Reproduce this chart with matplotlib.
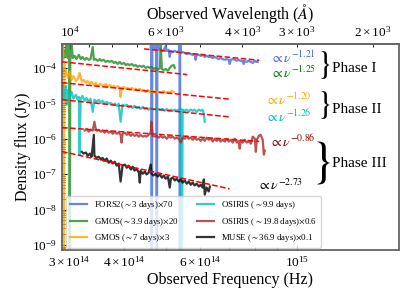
import matplotlib
matplotlib.use('Agg')
import matplotlib.pyplot as plt
import numpy as np

plt.rcParams['font.family'] = 'serif'
plt.rcParams['font.serif'] = ['Liberation Serif', 'STIXGeneral', 'DejaVu Serif']
plt.rcParams['mathtext.fontset'] = 'stix'

c_AA = 2.998e18  # speed of light in Angstrom/s

# spectra as (frequency [1e14 Hz], log10 flux [Jy], already scaled); -12 marks empty pixels
fors2 = np.array([
    (4.61, -3.41), (4.62, -3.2), (4.635, -12), (4.65, -3.2), (4.66, -3.44), (4.71, -3.47),
    (4.745, -3.2), (4.76, -12), (4.775, -3.2), (4.78, -3.49), (4.84, -3.46), (4.89, -3.52),
    (4.94, -3.49), (4.99, -3.38), (5.02, -3.52), (5.07, -3.49), (5.10, -3.69), (5.13, -3.52),
    (5.18, -3.55), (5.24, -3.52), (5.29, -3.55), (5.35, -3.55), (5.37, -3.2), (5.38, -12),
    (5.39, -3.2), (5.41, -3.58), (5.46, -3.55), (5.52, -3.58), (5.58, -3.61), (5.64, -3.58),
    (5.70, -3.61), (5.76, -3.63), (5.82, -3.61), (5.85, -3.77), (5.88, -3.63), (5.95, -3.63),
    (6.01, -3.66), (6.07, -3.63), (6.14, -3.69), (6.20, -3.66), (6.27, -3.69), (6.34, -3.69),
    (6.41, -3.72), (6.47, -3.69), (6.54, -3.72), (6.61, -3.75), (6.68, -3.72), (6.75, -3.75),
    (6.83, -3.77), (6.90, -3.75), (6.97, -3.77), (7.01, -3.89), (7.05, -3.77), (7.12, -3.75),
    (7.20, -3.77), (7.28, -3.80), (7.35, -3.77), (7.43, -3.80), (7.51, -3.80), (7.55, -3.89),
    (7.59, -3.80), (7.67, -3.83), (7.75, -3.80), (7.84, -3.83), (7.92, -3.86), (8.01, -3.80),
    (8.09, -3.83), (8.13, -3.83)])

gmos1 = np.array([
    (2.875, -3.63), (2.89, -3.30), (2.906, -3.72), (2.92, -3.49), (2.937, -3.69), (2.95, -3.30),
    (2.968, -3.72), (2.99, -3.3), (3.00, -12), (3.01, -3.3), (3.016, -3.69), (3.032, -3.30),
    (3.048, -3.72), (3.08, -3.66), (3.11, -3.75), (3.15, -3.63), (3.18, -3.75), (3.21, -3.69),
    (3.25, -3.77), (3.28, -3.72), (3.32, -3.77), (3.35, -3.75), (3.39, -3.41), (3.41, -3.77),
    (3.44, -3.75), (3.48, -3.80), (3.52, -3.75), (3.55, -3.80), (3.59, -3.77), (3.63, -3.83),
    (3.67, -3.80), (3.71, -3.83), (3.75, -3.80), (3.79, -3.86), (3.83, -3.83), (3.87, -3.89),
    (3.91, -3.83), (3.95, -3.89), (4.00, -3.86), (4.04, -3.92), (4.08, -3.89), (4.12, -3.92),
    (4.17, -3.89), (4.21, -3.94), (4.26, -3.92), (4.30, -3.97), (4.35, -3.94), (4.40, -3.97),
    (4.44, -3.94), (4.49, -4.00), (4.54, -3.97), (4.59, -4.00), (4.63, -3.97), (4.68, -4.03),
    (4.73, -4.00), (4.78, -4.06), (4.84, -4.00), (4.86, -3.30), (4.89, -4.03), (4.94, -4.06),
    (4.99, -4.03), (5.05, -4.08), (5.10, -4.00), (5.15, -3.94), (5.21, -3.92), (5.24, -4.00)])

gmos2 = np.array([
    (2.875, -3.49), (2.89, -3.30), (2.90, -3.3), (2.906, -12), (2.915, -3.9), (2.92, -4.20),
    (2.94, -4.06), (2.97, -4.28), (3.00, -4.11), (3.03, -4.34), (3.06, -4.23), (3.10, -4.37),
    (3.13, -4.31), (3.16, -4.14), (3.20, -4.39), (3.23, -4.34), (3.27, -4.42), (3.30, -4.37),
    (3.34, -4.45), (3.37, -4.39), (3.41, -4.48), (3.44, -4.42), (3.48, -4.51), (3.52, -4.45),
    (3.55, -4.48), (3.59, -4.51), (3.63, -4.45), (3.67, -4.54), (3.71, -4.48), (3.75, -4.54),
    (3.79, -4.51), (3.83, -4.56), (3.87, -4.51), (3.91, -4.56), (3.93, -4.82), (3.95, -4.56),
    (4.00, -4.54), (4.04, -4.59), (4.08, -4.56), (4.12, -4.62), (4.17, -4.56), (4.21, -4.62),
    (4.26, -4.59), (4.30, -4.65), (4.35, -4.59), (4.40, -4.65), (4.44, -4.62), (4.49, -4.68),
    (4.54, -4.62), (4.59, -4.68), (4.63, -4.65), (4.68, -4.70), (4.73, -4.65), (4.78, -4.70),
    (4.84, -4.68), (4.89, -4.70), (4.94, -4.65), (4.99, -4.70), (5.05, -4.68), (5.10, -4.70),
    (5.15, -4.65), (5.21, -4.68)])

osiris1 = np.array([
    (2.875, -4.76), (2.89, -4.45), (2.906, -4.90), (2.94, -4.51), (2.95, -5.04), (2.97, -4.62),
    (3.00, -4.82), (3.03, -4.68), (3.06, -4.87), (3.10, -4.76), (3.13, -4.90), (3.15, -4.82),
    (3.16, -6.45), (3.18, -4.87), (3.21, -4.79), (3.25, -4.93), (3.28, -4.85), (3.32, -4.96),
    (3.35, -4.87), (3.39, -5.24), (3.42, -4.90), (3.46, -4.96), (3.50, -4.90), (3.54, -4.99),
    (3.57, -4.93), (3.61, -5.01), (3.65, -4.96), (3.69, -5.01), (3.73, -4.99), (3.77, -5.04),
    (3.81, -5.01), (3.85, -5.07), (3.89, -5.01), (3.93, -5.52), (3.97, -5.04), (4.02, -5.07),
    (4.06, -5.04), (4.10, -5.10), (4.15, -5.07), (4.19, -5.13), (4.23, -5.07), (4.28, -5.13),
    (4.33, -5.10), (4.37, -5.16), (4.42, -5.10), (4.47, -5.16), (4.51, -5.13), (4.56, -5.18),
    (4.61, -5.13), (4.66, -5.18), (4.71, -5.16), (4.76, -5.18), (4.81, -5.16), (4.86, -5.18),
    (4.91, -5.16), (4.97, -5.21), (5.02, -5.16), (5.07, -5.21), (5.13, -5.18), (5.18, -5.21),
    (5.24, -5.18), (5.29, -5.21), (5.35, -5.18), (5.41, -5.16), (5.436, -12), (5.46, -5.18),
    (5.52, -5.21), (5.58, -5.18), (5.64, -5.24), (5.70, -5.18), (5.76, -5.21), (5.82, -5.18),
    (5.88, -5.24), (5.95, -5.18), (6.01, -5.21), (6.07, -5.18), (6.11, -5.30), (6.14, -5.52)])

osiris2 = np.array([
    (3.25, -5.77), (3.28, -5.72), (3.32, -5.80), (3.35, -5.75), (3.39, -5.77), (3.42, -5.52),
    (3.44, -5.69), (3.46, -5.77), (3.50, -5.75), (3.54, -5.80), (3.57, -5.77), (3.61, -5.83),
    (3.65, -5.77), (3.69, -5.83), (3.73, -5.80), (3.77, -5.86), (3.81, -5.80), (3.85, -5.86),
    (3.89, -5.83), (3.93, -5.89), (3.95, -6.11), (3.97, -5.86), (4.02, -5.83), (4.06, -5.89),
    (4.10, -5.86), (4.15, -5.92), (4.19, -5.86), (4.23, -5.92), (4.28, -5.89), (4.33, -5.94),
    (4.37, -5.89), (4.42, -5.94), (4.47, -5.92), (4.51, -5.94), (4.56, -5.89), (4.61, -5.83),
    (4.63, -5.52), (4.66, -5.92), (4.71, -5.94), (4.76, -5.92), (4.81, -5.97), (4.86, -5.92),
    (4.91, -5.97), (4.97, -5.94), (5.02, -6.00), (5.07, -5.94), (5.13, -5.97), (5.18, -5.94),
    (5.24, -6.00), (5.29, -5.97), (5.35, -6.00), (5.41, -6.11), (5.46, -5.97), (5.52, -6.00),
    (5.58, -5.94), (5.64, -6.00), (5.70, -5.97), (5.76, -6.03), (5.82, -5.97), (5.88, -6.03),
    (5.95, -6.00), (6.01, -6.06), (6.07, -6.00), (6.14, -6.06), (6.20, -5.97), (6.27, -6.03),
    (6.34, -6.00), (6.41, -6.08), (6.47, -6.00), (6.54, -6.06), (6.61, -6.00), (6.68, -6.08),
    (6.75, -6.03), (6.83, -6.08), (6.90, -6.00), (6.97, -6.08), (7.05, -6.03), (7.12, -6.11),
    (7.20, -6.00), (7.28, -6.11), (7.35, -6.06), (7.39, -6.28), (7.43, -6.06), (7.51, -6.11),
    (7.59, -6.03), (7.67, -6.11), (7.75, -6.06), (7.84, -6.14), (7.92, -5.94), (8.01, -6.00),
    (8.05, -6.37), (8.09, -6.03), (8.18, -5.92), (8.26, -5.89), (8.35, -6.03), (8.40, -6.45),
    (8.44, -6.34)])

muse = np.array([
    (3.20, -6.37), (3.23, -6.42), (3.27, -6.39), (3.30, -6.48), (3.34, -6.42), (3.37, -6.51),
    (3.41, -5.89), (3.42, -6.48), (3.46, -6.54), (3.50, -6.51), (3.54, -6.59), (3.57, -6.54),
    (3.61, -6.62), (3.65, -6.56), (3.69, -6.68), (3.73, -6.62), (3.77, -6.70), (3.81, -6.65),
    (3.85, -6.76), (3.89, -6.70), (3.93, -7.21), (3.97, -6.76), (4.02, -6.73), (4.06, -6.82),
    (4.10, -6.76), (4.15, -6.87), (4.19, -6.79), (4.23, -6.90), (4.28, -6.85), (4.33, -6.96),
    (4.35, -7.24), (4.37, -6.90), (4.42, -6.99), (4.47, -6.93), (4.51, -7.01), (4.56, -6.96),
    (4.61, -6.73), (4.63, -6.99), (4.68, -7.04), (4.73, -6.99), (4.78, -7.07), (4.84, -7.01),
    (4.89, -7.10), (4.94, -7.04), (4.99, -7.13), (5.05, -7.07), (5.10, -7.38), (5.13, -7.13),
    (5.18, -7.10), (5.24, -7.18), (5.29, -7.13), (5.35, -7.21), (5.41, -7.15), (5.46, -7.24),
    (5.52, -7.18), (5.58, -7.27), (5.64, -7.21), (5.70, -7.30), (5.76, -7.24), (5.82, -7.32),
    (5.88, -7.27), (5.95, -7.35), (6.01, -7.30), (6.07, -7.38), (6.11, -7.15), (6.14, -7.58),
    (6.20, -7.38), (6.27, -7.49), (6.31, -7.35)])

labels = [r'FORS2($\sim$3 days)$\times$70', r'GMOS($\sim$3.9 days)$\times$20',
          r'GMOS ($\sim$7 days)$\times$3', r'OSIRIS ($\sim$9.9 days)',
          r'OSIRIS ($\sim$19.8 days)$\times$0.6', r'MUSE ($\sim$36.9 days)$\times$0.1']
spectra = [fors2, gmos1, gmos2, osiris1, osiris2, muse]
colors = ['royalblue', 'forestgreen', 'orange', 'c', 'brown', 'k']
text_colors = ['royalblue', 'green', 'orange', 'c', 'darkred', 'k']

# power-law fits: index, log10 flux at 3e14 Hz, frequency range [1e14 Hz]
fit_alpha = [-1.21, -1.25, -1.20, -1.26, -0.86, -2.73]
fit_logf0 = [-3.256, -3.85, -4.44, -4.92, -5.70, -6.41]
fit_lo = [4.45, 2.88, 2.88, 2.88, 2.88, 2.88]
fit_hi = [8.2, 5.6, 7.0, 7.0, 8.2, 7.0]

fig = plt.figure(figsize=(4.2, 2.94), dpi=100)
ax = fig.add_axes([0.1476, 0.1497, 0.8024, 0.7007])

for spec, col, lab in zip(spectra, colors, labels):
    ax.plot(spec[:, 0] * 1e14, 10 ** spec[:, 1], color=col, alpha=0.8, lw=1.6, label=lab)

for a, f0, lo, hi in zip(fit_alpha, fit_logf0, fit_lo, fit_hi):
    nu = np.array([lo, hi]) * 1e14
    ax.plot(nu, 10 ** f0 * (nu / 3e14) ** a, 'r--', lw=1.1, zorder=5)

ax.set_xscale('log')
ax.set_yscale('log')
ax.set_xlim(2.88e14, 1.72e15)
ax.set_ylim(7.2e-10, 4.74e-4)
ax.set_xlabel('Observed Frequency (Hz)', fontsize=11.5, labelpad=2)
ax.set_ylabel('Density flux (Jy)', fontsize=11.5, labelpad=1)
ax.tick_params(which='both', direction='in', labelsize=9.5)

def nu2lam(nu):
    with np.errstate(divide='ignore'):
        return c_AA / np.asarray(nu, dtype=float)

secax = ax.secondary_xaxis('top', functions=(nu2lam, nu2lam))
secax.set_xlabel(r'Observed Wavelength ($\mathit{Å}$)', fontsize=11.5, labelpad=4)
secax.tick_params(which='both', direction='in', labelsize=9.5)

for sp in ax.spines.values():
    sp.set_color('0.4')
    sp.set_linewidth(1.3)
secax.spines['top'].set_color('0.4')
secax.spines['top'].set_linewidth(1.3)

# slope annotations
slope_text = [r'$\propto\nu^{-1.21}$', r'$\propto\nu^{-1.25}$', r'$\propto\nu^{-1.20}$',
              r'$\propto\nu^{-1.26}$', r'$\propto\nu^{-0.86}$', r'$\propto\nu^{-2.73}$']
slope_pos = [(0.617, 0.932), (0.617, 0.859), (0.602, 0.728),
             (0.602, 0.646), (0.614, 0.524), (0.579, 0.316)]
for t, (px, py), col in zip(slope_text, slope_pos, text_colors):
    ax.text(px, py, t, color=col, fontsize=10, transform=ax.transAxes, va='center', ha='left')

# phase braces
brace = dict(transform=ax.transAxes, ha='center', va='center', family='STIXGeneral')
ax.text(0.778, 0.895, '}', fontsize=24, **brace)
ax.text(0.800, 0.879, 'Phase I', fontsize=11, transform=ax.transAxes, ha='left', va='center')
ax.text(0.778, 0.700, '}', fontsize=24, **brace)
ax.text(0.800, 0.680, 'Phase II', fontsize=11, transform=ax.transAxes, ha='left', va='center')
ax.text(0.772, 0.418, '}', fontsize=36, **brace)
ax.text(0.800, 0.422, 'Phase III', fontsize=11, transform=ax.transAxes, ha='left', va='center')

ax.legend(ncol=2, fontsize=6.3, loc='lower left', bbox_to_anchor=(0.0, -0.01),
          handlelength=2.0, columnspacing=2.0)

fig.savefig('out.png', dpi=100)
